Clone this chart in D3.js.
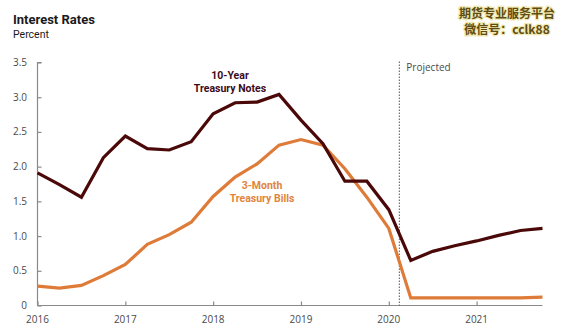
<!DOCTYPE html>
<html>
<head>
<meta charset="utf-8">
<script src="https://cdn.jsdelivr.net/npm/d3@7"></script>
<style>
  html, body { margin: 0; padding: 0; background: #fff; }
  svg { display: block; }
  .lbl { font-family: "Liberation Sans Narrow", "Roboto", "Noto Sans", sans-serif; }
  .tick-text { font-family: "Open Sans", "Noto Sans", sans-serif; font-size: 10px; fill: #4a4a4a; }
</style>
</head>
<body>
<svg id="chart" width="569" height="335"></svg>
<script>
// quarterly rates, percent (2016 Q1 .. 2021 Q4)
const quarters = [
  2016.0, 2016.25, 2016.5, 2016.75,
  2017.0, 2017.25, 2017.5, 2017.75,
  2018.0, 2018.25, 2018.5, 2018.75,
  2019.0, 2019.25, 2019.5, 2019.75,
  2020.0, 2020.25, 2020.5, 2020.75,
  2021.0, 2021.25, 2021.5, 2021.75
];
const tenYear = [
  1.91, 1.74, 1.56, 2.13,
  2.44, 2.26, 2.24, 2.36,
  2.76, 2.92, 2.93, 3.04,
  2.67, 2.33, 1.79, 1.79,
  1.38, 0.65, 0.78, 0.86,
  0.93, 1.01, 1.08, 1.11
];
const threeMonth = [
  0.28, 0.25, 0.29, 0.43,
  0.59, 0.88, 1.02, 1.20,
  1.57, 1.85, 2.04, 2.31,
  2.39, 2.31, 1.97, 1.56,
  1.11, 0.11, 0.11, 0.11,
  0.11, 0.11, 0.11, 0.12
];
const yTicks = [0, 0.5, 1.0, 1.5, 2.0, 2.5, 3.0, 3.5];
const xTicks = [2016, 2017, 2018, 2019, 2020, 2021];
const projectedStart = 2020.12;

const svg = d3.select('#chart');

const x = d3.scaleLinear().domain([2016, 2021.75]).range([37.5, 542.5]);
const y = d3.scaleLinear().domain([0, 3.5]).range([305.5, 62.5]);

// header
svg.append('text').attr('class', 'lbl')
  .attr('x', 13).attr('y', 24)
  .attr('font-size', 13).attr('font-weight', 700).attr('fill', '#1a1a1a')
  .text('Interest Rates');
svg.append('text').attr('class', 'lbl')
  .attr('x', 13).attr('y', 38)
  .attr('font-size', 10.5).attr('fill', '#1a1a1a')
  .text('Percent');

// watermark
const wm = svg.append('g')
  .attr('font-family', '"Noto Sans CJK SC", sans-serif')
  .attr('font-weight', 700).attr('font-size', 12)
  .attr('text-anchor', 'middle');
[['期货专业服务平台', 18], ['微信号：cclk88', 34]].forEach(([t, yy]) => {
  wm.append('text').attr('x', 507).attr('y', yy)
    .attr('fill', 'none').attr('stroke', '#f1e9b0').attr('stroke-width', 2.5)
    .text(t);
  wm.append('text').attr('x', 507).attr('y', yy)
    .attr('fill', '#5e4c14')
    .text(t);
});

// y axis: ticks point inward
const yAxis = svg.append('g')
  .attr('transform', `translate(${x(2016)},0)`)
  .call(d3.axisRight(y).tickValues(yTicks).tickSize(4).tickFormat(() => ''));
yAxis.select('.domain').attr('stroke', '#8a8a8a').attr('stroke-width', 1.2).attr('d', `M4,${y(3.5)}H0V${y(0)}`);
yAxis.selectAll('.tick line').attr('stroke', '#8a8a8a').attr('stroke-width', 1.2);

svg.append('g').selectAll('text')
  .data(yTicks).join('text')
  .attr('class', 'tick-text')
  .attr('x', 27).attr('y', d => y(d) + 3.5)
  .attr('text-anchor', 'end')
  .text(d => d === 0 ? '0' : d.toFixed(1));

// x axis: ticks point up
const xAxis = svg.append('g')
  .attr('transform', `translate(0,${y(0)})`)
  .call(d3.axisTop(x).tickValues(xTicks).tickSize(4).tickFormat(() => ''));
xAxis.select('.domain').attr('stroke', '#8a8a8a').attr('stroke-width', 1.2).attr('d', `M${x(2016)},0H${x(2021.75)}`);
xAxis.selectAll('.tick line').attr('stroke', '#8a8a8a').attr('stroke-width', 1.2);

svg.append('g').selectAll('text')
  .data(xTicks).join('text')
  .attr('class', 'tick-text')
  .attr('x', d => x(d)).attr('y', 323)
  .attr('text-anchor', 'middle')
  .text(d => d);

// projection divider
svg.append('line')
  .attr('x1', x(projectedStart)).attr('x2', x(projectedStart))
  .attr('y1', y(3.5) - 1).attr('y2', y(0))
  .attr('stroke', '#555').attr('stroke-width', 1)
  .attr('stroke-dasharray', '1.5,1.5');
svg.append('text')
  .attr('class', 'tick-text')
  .attr('x', x(projectedStart) + 7).attr('y', 71)
  .attr('font-size', 9.5).attr('fill', '#666')
  .text('Projected');

// series
const line = d3.line()
  .x((d, i) => x(quarters[i]))
  .y(d => y(d));

svg.append('path')
  .attr('d', line(threeMonth))
  .attr('fill', 'none').attr('stroke', '#df7b38')
  .attr('stroke-width', 3.2).attr('stroke-linejoin', 'miter');

svg.append('path')
  .attr('d', line(tenYear))
  .attr('fill', 'none').attr('stroke', '#4a0808')
  .attr('stroke-width', 3.2).attr('stroke-linejoin', 'miter');

// series labels, one text per line
function twoLineLabel(cx, top, lines, color) {
  lines.forEach((t, i) => {
    svg.append('text').attr('class', 'lbl')
      .attr('text-anchor', 'middle').attr('font-weight', 700)
      .attr('font-size', 10.5).attr('fill', color)
      .attr('x', cx).attr('y', top + i * 12.5)
      .text(t);
  });
}
twoLineLabel(230, 79, ['10-Year', 'Treasury Notes'], '#3d0a1a');
twoLineLabel(262, 189, ['3-Month', 'Treasury Bills'], '#e0843e');
</script>
</body>
</html>
